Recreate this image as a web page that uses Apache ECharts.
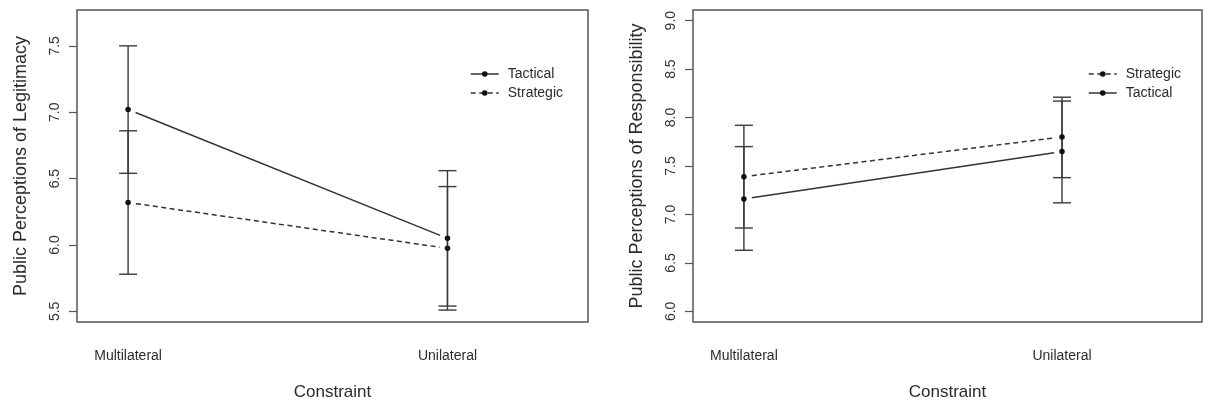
<!DOCTYPE html>
<html><head><meta charset="utf-8">
<script src="https://cdn.jsdelivr.net/npm/echarts@6/dist/echarts.min.js"></script>
<style>html,body{margin:0;padding:0;background:#fff}#c{width:1207px;height:406px}</style>
</head><body><div id="c"></div>
<script>
const categories = ['Multilateral', 'Unilateral'];
const categoryPos = [1, 2];
// Left panel: Public Perceptions of Legitimacy
const legitTacticalMean = [7.02, 6.05];
const legitTacticalLow = [6.54, 5.54];
const legitTacticalHigh = [7.50, 6.56];
const legitStrategicMean = [6.32, 5.975];
const legitStrategicLow = [5.78, 5.51];
const legitStrategicHigh = [6.86, 6.44];
// Right panel: Public Perceptions of Responsibility
const respTacticalMean = [7.16, 7.65];
const respTacticalLow = [6.63, 7.12];
const respTacticalHigh = [7.70, 8.17];
const respStrategicMean = [7.39, 7.80];
const respStrategicLow = [6.86, 7.38];
const respStrategicHigh = [7.92, 8.21];
const legitTicks = [5.5, 6.0, 6.5, 7.0, 7.5];
const respTicks = [6.0, 6.5, 7.0, 7.5, 8.0, 8.5, 9.0];
const yTitles = ['Public Perceptions of Legitimacy', 'Public Perceptions of Responsibility'];
const xTitle = 'Constraint';
const legendLeft = ['Tactical', 'Strategic'];
const legendRight = ['Strategic', 'Tactical'];

const FONT = 'Liberation Sans, Arial, sans-serif';
const INK = '#2b2b2b';
const DASH = [5, 3.5];

function pts(means) { return categoryPos.map((x, i) => [x, means[i]]); }
function bars(low, high) { return categoryPos.map((x, i) => [x, low[i], high[i]]); }
function seg(means) { return [[categoryPos[0], means[0], categoryPos[1], means[1]]]; }

function renderErr(params, api) {
  const x = api.value(0);
  const a = api.coord([x, api.value(1)]);
  const b = api.coord([x, api.value(2)]);
  const w = 9;
  const style = { stroke: '#3a3a3a', lineWidth: 1.4 };
  return { type: 'group', children: [
    { type: 'line', shape: { x1: a[0], y1: a[1], x2: b[0], y2: b[1] }, style },
    { type: 'line', shape: { x1: a[0] - w, y1: a[1], x2: a[0] + w, y2: a[1] }, style },
    { type: 'line', shape: { x1: b[0] - w, y1: b[1], x2: b[0] + w, y2: b[1] }, style }
  ]};
}
function gapLine(dash) {
  return function (params, api) {
    const a = api.coord([api.value(0), api.value(1)]);
    const b = api.coord([api.value(2), api.value(3)]);
    const dx = b[0] - a[0], dy = b[1] - a[1], L = Math.hypot(dx, dy), g = 8 / L;
    return { type: 'line',
      shape: { x1: a[0] + dx * g, y1: a[1] + dy * g, x2: b[0] - dx * g, y2: b[1] - dy * g },
      style: { stroke: '#333', lineWidth: 1.5, lineDash: dash } };
  };
}
function pointSeries(name, idx, means, dashed) {
  return { type: 'line', name, xAxisIndex: idx, yAxisIndex: idx, data: pts(means),
    symbol: 'circle', symbolSize: 5.5, itemStyle: { color: '#111' },
    lineStyle: { color: '#333', width: 1.5, type: dashed ? DASH : 'solid', opacity: 0 },
    z: 5, silent: true };
}
function errSeries(idx, low, high) {
  return { type: 'custom', xAxisIndex: idx, yAxisIndex: idx, renderItem: renderErr,
    data: bars(low, high), z: 3, silent: true };
}
function lineSeries(idx, means, dashed) {
  return { type: 'custom', xAxisIndex: idx, yAxisIndex: idx, renderItem: gapLine(dashed ? DASH : null),
    data: seg(means), z: 2, silent: true };
}
function xAx(idx) {
  return { type: 'value', gridIndex: idx, min: 0.84, max: 2.44,
    axisLine: { show: false }, axisTick: { show: false }, splitLine: { show: false },
    axisLabel: { customValues: categoryPos, formatter: v => categories[categoryPos.indexOf(v)] || '',
      margin: 27, fontSize: 14, color: INK, fontFamily: FONT },
    name: xTitle, nameLocation: 'middle', nameGap: 62,
    nameTextStyle: { fontSize: 17, color: INK, fontFamily: FONT } };
}
function yAx(idx, min, max, ticks) {
  return { type: 'value', gridIndex: idx, min, max,
    axisLine: { show: false }, splitLine: { show: false },
    axisTick: { show: true, customValues: ticks, length: 8, lineStyle: { color: '#555', width: 1.2 } },
    axisLabel: { customValues: ticks, rotate: 90, formatter: v => v.toFixed(1), margin: 15,
      fontSize: 14, color: '#333', fontFamily: FONT },
    name: yTitles[idx], nameLocation: 'middle', nameRotate: 90, nameGap: 47,
    nameTextStyle: { fontSize: 18, color: INK, fontFamily: FONT } };
}
function legendFor(names, left) {
  return { orient: 'vertical', left, top: 62, itemWidth: 28, itemHeight: 7, itemGap: 5,
    selectedMode: false,
    data: names,
    lineStyle: { opacity: 1, width: 1.5, color: '#333' },
    textStyle: { fontSize: 14, color: INK, fontFamily: FONT, padding: [0, 0, 0, 4] } };
}

const chart = echarts.init(document.getElementById('c'), null, { renderer: 'canvas' });
chart.setOption({
  animation: false,
  backgroundColor: '#fff',
  grid: [
    { left: 77, right: 619, top: 10, bottom: 83, show: true, borderColor: '#555', borderWidth: 1.5, backgroundColor: 'transparent' },
    { left: 693, right: 5, top: 10, bottom: 83, show: true, borderColor: '#555', borderWidth: 1.5, backgroundColor: 'transparent' }
  ],
  xAxis: [xAx(0), xAx(1)],
  yAxis: [yAx(0, 5.42, 7.77, legitTicks), yAx(1, 5.89, 9.11, respTicks)],
  legend: [legendFor(legendLeft, 465), legendFor(legendRight, 1083)],
  series: [
    errSeries(0, legitTacticalLow, legitTacticalHigh),
    errSeries(0, legitStrategicLow, legitStrategicHigh),
    lineSeries(0, legitTacticalMean, false),
    lineSeries(0, legitStrategicMean, true),
    pointSeries('Tactical', 0, legitTacticalMean, false),
    pointSeries('Strategic', 0, legitStrategicMean, true),
    errSeries(1, respTacticalLow, respTacticalHigh),
    errSeries(1, respStrategicLow, respStrategicHigh),
    lineSeries(1, respTacticalMean, false),
    lineSeries(1, respStrategicMean, true),
    pointSeries('Tactical', 1, respTacticalMean, false),
    pointSeries('Strategic', 1, respStrategicMean, true)
  ]
});
</script></body></html>
